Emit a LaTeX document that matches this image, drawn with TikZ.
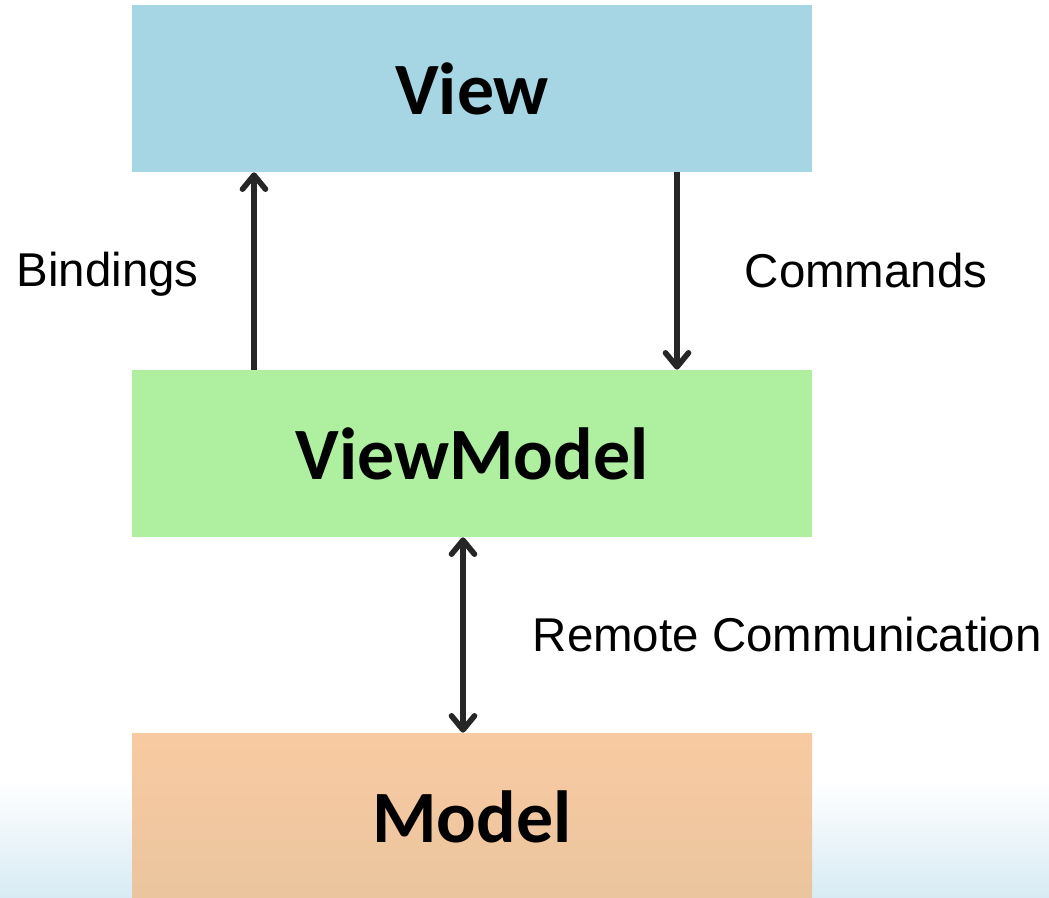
\documentclass[tikz,border=0pt]{standalone}
\usepackage{fontspec}
\setmainfont{Liberation Sans}
\newfontfamily\boxfont{Carlito}
\usetikzlibrary{arrows.meta}
\definecolor{viewblue}{RGB}{166,213,227}
\definecolor{vmgreen}{RGB}{174,239,160}
\definecolor{modelorange}{RGB}{249,202,162}
\definecolor{modelshade}{RGB}{234,197,158}
\definecolor{skyblue}{RGB}{216,235,244}
\definecolor{arrowgray}{RGB}{38,38,38}

\begin{document}
\begin{tikzpicture}[
	layer/.style = {minimum width = 13.6cm, minimum height = 3.34cm, inner sep = 0pt,
		font = \boxfont\bfseries\fontsize{42}{46}\selectfont},
	barb/.tip = {Straight Barb[length = 2.8mm, width = 4.6mm, line cap = round, line join = round]},
	flow/.style = {draw = arrowgray, line width = 3.2pt, -barb},
	twoway/.style = {flow, barb-barb},
	tag/.style = {font = \fontsize{27}{30}\selectfont, inner sep = 0pt}]
	\useasboundingbox (0,0) rectangle (20.98,-17.94);
	\shade[top color = white, bottom color = skyblue] (0,-15.6) rectangle (20.98,-17.94);
	\node[layer, fill = viewblue] (view) at (9.44,-1.77) {View};
	\node[layer, fill = vmgreen] (viewmodel) at (9.44,-9.07) {ViewModel};
	\node[layer, top color = modelorange, bottom color = modelshade, shading angle = 0] (model) at (9.44,-16.33) {Model};
	\draw[flow] ([xshift = -4.36cm]viewmodel.north) -- node[tag, left = 1.05cm, yshift = -0.06cm] (bindings) {Bindings} ([xshift = -4.36cm]view.south);
	\draw[flow] ([xshift = 4.1cm]view.south) -- node[tag, right = 1.3cm] (commands) {Commands} ([xshift = 4.1cm]viewmodel.north);
	\draw[twoway] ([xshift = -0.18cm]viewmodel.south) -- node[tag, right = 1.34cm] (remote) {Remote Communication} ([xshift = -0.18cm]model.north);
\end{tikzpicture}
\end{document}
